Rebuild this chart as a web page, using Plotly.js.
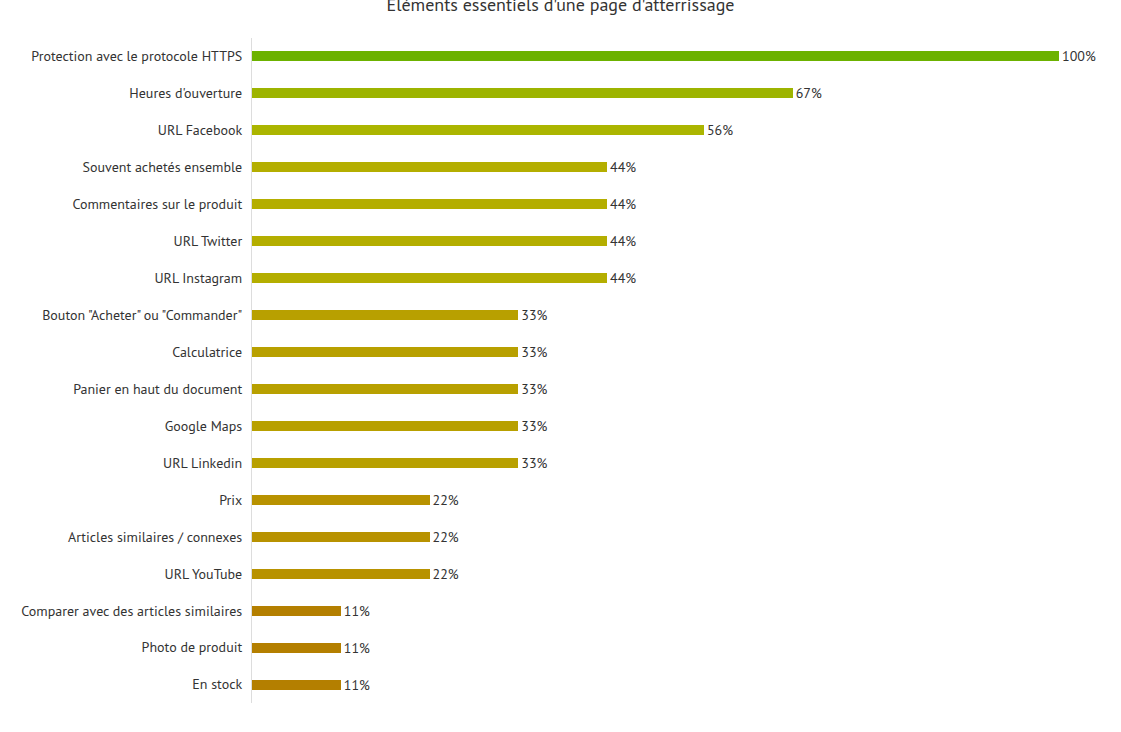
<!DOCTYPE html>
<html><head><meta charset="utf-8">
<script src="https://cdn.plot.ly/plotly-3.0.1.min.js"></script>
<style>body{margin:0;background:#fff}#chart{width:1121px;height:732px}</style>
</head><body><div id="chart"></div>
<script>
const categories = [
  "Protection avec le protocole HTTPS",
  "Heures d'ouverture",
  "URL Facebook",
  "Souvent achetés ensemble",
  "Commentaires sur le produit",
  "URL Twitter",
  "URL Instagram",
  "Bouton \"Acheter\" ou \"Commander\"",
  "Calculatrice",
  "Panier en haut du document",
  "Google Maps",
  "URL Linkedin",
  "Prix",
  "Articles similaires / connexes",
  "URL YouTube",
  "Comparer avec des articles similaires",
  "Photo de produit",
  "En stock"
];
const values = [100, 67, 56, 44, 44, 44, 44, 33, 33, 33, 33, 33, 22, 22, 22, 11, 11, 11];
const colorByValue = {100: "#6cb200", 67: "#9db400", 56: "#abb500", 44: "#b4ae00", 33: "#b8a000", 22: "#b89200", 11: "#b47f00"};

const font = "'PT Sans', 'Noto Sans', sans-serif";
const trace = {
  type: "bar",
  orientation: "h",
  y: categories,
  x: values,
  width: 0.27,
  marker: {color: values.map(v => colorByValue[v])},
  text: values.map(v => v + "%"),
  textposition: "outside",
  constraintext: "none",
  cliponaxis: false,
  textfont: {family: font, size: 14, color: "#333333"},
  hoverinfo: "skip"
};
const layout = {
  width: 1121, height: 732,
  margin: {l: 252, r: 62, t: 38, b: 29},
  paper_bgcolor: "#ffffff", plot_bgcolor: "#ffffff",
  showlegend: false,
  bargap: 0,
  title: {text: "Éléments essentiels d'une page d'atterrissage", x: 0.5, xref: "container", xanchor: "center", y: 0.993, yref: "container", yanchor: "middle",
          font: {family: font, size: 18, color: "#333333"}},
  xaxis: {range: [0, 100], showgrid: false, zeroline: false, showticklabels: false, showline: false, fixedrange: true},
  yaxis: {autorange: "reversed", type: "category", showgrid: false, zeroline: false, showline: true, linecolor: "#dddddd", linewidth: 1,
          ticks: "", ticklabelstandoff: 6, tickfont: {family: font, size: 14, color: "#333333"}, fixedrange: true}
};
Plotly.newPlot("chart", [trace], layout, {displayModeBar: false, staticPlot: true});
</script></body></html>
